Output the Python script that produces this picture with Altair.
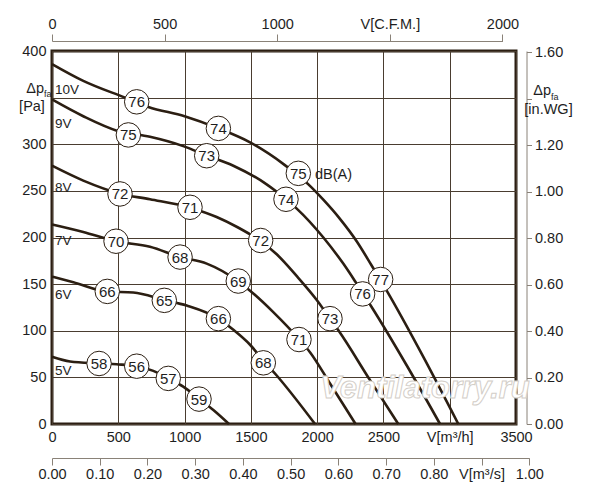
import altair as alt
import pandas as pd

FONT = "Liberation Sans"
INK = "#2b1e12"
TXT = "#1e1e1e"
GREY = "#8a8278"

# ---- fan curves: airflow V [m3/h] and pressure dp_fa [Pa] ----
v_10v = [0, 236, 551, 727, 1000, 1255, 1494, 1744, 1934, 2050, 2172, 2298, 2411, 2529, 2801, 3065]
p_10v = [386, 368, 350, 340, 330, 317, 302, 279, 257, 240, 220, 196, 170, 142, 72, 0]

v_9v = [0, 236, 500, 739, 990, 1167, 1368, 1619, 1765, 1846, 2047, 2197, 2298, 2411, 2675, 2927]
p_9v = [348, 330, 314, 308, 298, 288, 277, 257, 241, 231, 200, 172, 150.5, 125.5, 63, 0]

v_8v = [0, 236, 513, 739, 1041, 1242, 1400, 1574, 1695, 1850, 1997, 2097, 2160, 2399, 2612]
p_8v = [277, 261, 247, 241, 232, 222, 211, 196, 182, 158, 133, 113, 100.5, 47, 0]

v_7v = [0, 236, 483, 739, 966, 1167, 1405, 1494, 1669, 1863, 1946, 2097, 2290]
p_7v = [214, 206, 196, 190, 179, 172, 153, 143, 120, 91, 77, 43.5, 0]

v_6v = [0, 161, 417, 613, 847, 1016, 1255, 1368, 1494, 1594, 1695, 1984]
p_6v = [158, 152, 142, 141, 133, 127, 113, 101, 85, 68, 52, 0]

v_5v = [0, 136, 355, 488, 639, 764, 877, 990, 1109, 1217, 1335]
p_5v = [72, 67, 65, 64, 62, 57, 49, 40, 27, 15, 0]

series_names = ["10V", "9V", "8V", "7V", "6V", "5V"]
series_v = [v_10v, v_9v, v_8v, v_7v, v_6v, v_5v]
series_p = [p_10v, p_9v, p_8v, p_7v, p_6v, p_5v]

# ---- sound level markers dB(A) ----
db_v = [639, 1255, 1858, 2479, 576, 1167, 1765, 2343, 513, 1041, 1574, 2097,
        483, 966, 1405, 1863, 417, 847, 1255, 1594, 355, 639, 877, 1109]
db_p = [345.5, 317, 268.8, 155, 310, 287.7, 241, 139.5, 246.7, 232.4, 196.8, 113,
        196, 179, 153.3, 90.6, 142.2, 132.6, 113, 65.6, 64.9, 62, 48.9, 26.7]
db_t = ["76", "74", "75", "77", "75", "73", "74", "76", "72", "71", "72", "73",
        "70", "68", "69", "71", "66", "65", "66", "68", "58", "56", "57", "59"]

# ---- voltage labels ----
volt_t = ["10V", "9V", "8V", "7V", "6V", "5V"]
volt_v = [23, 23, 23, 23, 23, 23]
volt_p = [358, 321.6, 252.7, 196, 138, 57]

unit_t = ["dB(A)"]
unit_v = [1984]
unit_p = [267.4]

# ---- axis ticks ----
ticks_m3h = [0, 500, 1000, 1500, 2000, 2500, 3000, 3500]
ticks_pa = [0, 50, 100, 150, 200, 250, 300, 350, 400]
ticks_cfm = [0, 500, 1000, 1500, 2000]
ticks_m3s = [0.0, 0.1, 0.2, 0.3, 0.4, 0.5, 0.6, 0.7, 0.8, 0.9, 1.0]
ticks_inwg = [0.0, 0.2, 0.4, 0.6, 0.8, 1.0, 1.2, 1.4, 1.6]

W, H = 464, 373
VMAX, PMAX = 3500, 400
M3H_PER_CFM = 1.69901
PA_PER_INWG = 249.089

rows = []
for name, vs, ps in zip(series_names, series_v, series_p):
    for v, p in zip(vs, ps):
        rows.append({"v": v, "p": p, "s": name})
curves = pd.DataFrame(rows)
circles = pd.DataFrame({"v": db_v, "p": db_p, "t": db_t})
volts = pd.DataFrame({"v": volt_v, "p": volt_p, "t": volt_t})
units = pd.DataFrame({"v": unit_v, "p": unit_p, "t": unit_t})

xs = alt.Scale(domain=[0, VMAX], nice=False, zero=False)
ys = alt.Scale(domain=[0, PMAX], nice=False, zero=False)

lab = dict(labelFont=FONT, labelFontSize=14.5, labelColor=TXT, labelOverlap=False,
           labelFlush=False, labelBound=False, title=None)

xaxis = alt.Axis(values=ticks_m3h, format="d",
                 labelExpr="datum.value == 3000 ? 'V[m³/h]' : datum.label",
                 grid=True, gridColor="#4a3d30", gridWidth=1, ticks=False, domain=False,
                 labelPadding=6, **lab)
yaxis = alt.Axis(values=ticks_pa, format="d",
                 labelExpr="datum.value == 350 ? '' : datum.label",
                 grid=True, gridColor="#4a3d30", gridWidth=1, ticks=False, domain=False,
                 labelPadding=6, **lab)

X = alt.X("v:Q", scale=xs, axis=xaxis)
Y = alt.Y("p:Q", scale=ys, axis=yaxis)

lines = alt.Chart(curves).mark_line(color=INK, strokeWidth=2.6, interpolate="monotone").encode(
    x=X, y=Y, detail="s:N")

dots = alt.Chart(circles).mark_point(shape="circle", filled=True, fill="white", stroke=INK,
                                      strokeWidth=1, size=600, opacity=1).encode(x=X, y=Y)
dot_txt = alt.Chart(circles).mark_text(font=FONT, fontSize=15, color=TXT, baseline="middle",
                                       align="center", dy=0.5).encode(x=X, y=Y, text="t:N")
volt_txt = alt.Chart(volts).mark_text(font=FONT, fontSize=13.5, color=TXT, baseline="middle",
                                      align="left").encode(x=X, y=Y, text="t:N")
unit_txt = alt.Chart(units).mark_text(font=FONT, fontSize=14.5, color=TXT, baseline="middle",
                                      align="left").encode(x=X, y=Y, text="t:N")

anno = pd.DataFrame({"a": [0]})


def label(text, x, y, size=14.5, align="left", **kw):
    return alt.Chart(anno).mark_text(text=text, font=FONT, fontSize=size, color=TXT,
                                     align=align, baseline="middle", **kw).encode(
        x=alt.value(x), y=alt.value(y))


titles = [
    label("Δp", -8, 38, align="right"),
    label("fa", -8, 43, size=9),
    label("[Pa]", -20, 56, align="center"),
    label("Δp", 499, 40, align="right"),
    label("fa", 499, 46, size=9),
    label("[in.WG]", 496.5, 59, align="center"),
]

watermark = alt.Chart(anno).mark_text(text="Ventilatorry.ru", font=FONT, fontSize=31,
                                      fontStyle="italic", fontWeight="bold", fill="white",
                                      stroke="#d3cec8", strokeWidth=1, align="center",
                                      baseline="alphabetic").encode(
    x=alt.value(373), y=alt.value(347))

main = alt.layer(lines, watermark, dots, dot_txt, volt_txt, unit_txt, *titles)

sec = dict(domainColor=GREY, tickColor=GREY, domainWidth=1, tickWidth=1, grid=False, **lab)

cfm_df = pd.DataFrame({"cfm": [0, 2000]})
top_axis = alt.Chart(cfm_df).mark_point(opacity=0).encode(
    x=alt.X("cfm:Q",
            scale=alt.Scale(domain=[0, 2000], range=[0, W * 2000 * M3H_PER_CFM / VMAX], nice=False),
            axis=alt.Axis(orient="top", offset=10, values=ticks_cfm, format="d",
                          labelExpr="datum.value == 1500 ? 'V[C.F.M.]' : datum.label",
                          labelPadding=3, tickSize=7, **sec)))

m3s_df = pd.DataFrame({"m3s": [0, 1]})
m3s_axis = alt.Chart(m3s_df).mark_point(opacity=0).encode(
    x=alt.X("m3s:Q",
            scale=alt.Scale(domain=[0, 1], range=[0, W * 3600 / VMAX], nice=False),
            axis=alt.Axis(orient="bottom", offset=34, values=ticks_m3s, format=".2f",
                          labelExpr="abs(datum.value - 0.9) < 0.001 ? 'V[m³/s]' : datum.label",
                          labelPadding=2, tickSize=7, **sec)))

wg_df = pd.DataFrame({"wg": [0, 1.6]})
wg_axis = alt.Chart(wg_df).mark_point(opacity=0).encode(
    y=alt.Y("wg:Q",
            scale=alt.Scale(domain=[0, PMAX / PA_PER_INWG], nice=False, zero=False),
            axis=alt.Axis(orient="right", offset=10.5, values=ticks_inwg, format=".2f",
                          labelExpr="abs(datum.value - 1.4) < 0.001 ? '' : datum.label",
                          labelPadding=3, tickSize=5, **sec)))

chart = alt.layer(main, top_axis, m3s_axis, wg_axis).resolve_scale(
    x="independent", y="independent").properties(
    width=W, height=H, autosize=alt.AutoSizeParams(type="none"),
    padding={"left": 44, "top": 43, "right": 76, "bottom": 68},
    background="white").configure_view(stroke=INK, strokeWidth=3).configure_text(font=FONT)

chart.save("out.html", embed_options={"renderer": "svg", "actions": False})
